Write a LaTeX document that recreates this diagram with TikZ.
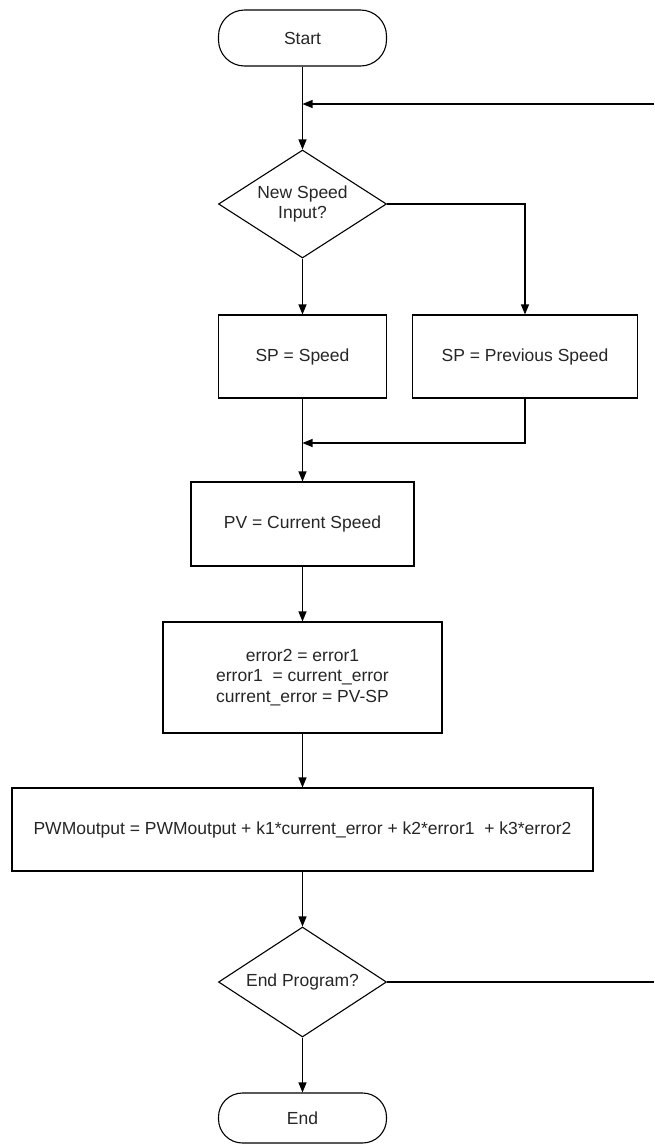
\documentclass[tikz,border=0pt]{standalone}
\usepackage{fontspec}
\setmainfont{Liberation Sans}
\usetikzlibrary{shapes.geometric,arrows.meta}
\begin{document}
\begin{tikzpicture}[x=1pt,y=-1pt,
  every node/.style={font=\fontsize{17.5}{20.5}\selectfont, text=black!85, align=center, inner sep=0pt},
  term/.style={draw, line width=1.1pt, rectangle, rounded corners=26pt, minimum width=168pt},
  proc/.style={draw, line width=1.1pt, rectangle},
  dec/.style={draw, line width=1.1pt, diamond, aspect=1.55, minimum width=168pt},
  arr/.style={line width=1.1pt, -{Triangle[length=10pt,width=8pt]}},
  ln/.style={line width=1.1pt}]
\useasboundingbox (0,0) rectangle (654,1144);
\node[term, minimum height=56pt] (start) at (302.5,38) {Start};
\node[dec, minimum height=108pt] (d1) at (302.5,204) {New Speed\\Input?};
\node[proc, minimum width=168pt, minimum height=83pt] (sp) at (302.5,356.5) {SP = Speed};
\node[proc, minimum width=225pt, minimum height=83pt] (prev) at (525,356.5) {SP = Previous Speed};
\node[proc, minimum width=223pt, minimum height=84pt] (pv) at (302.5,524) {PV = Current Speed};
\node[proc, minimum width=279pt, minimum height=111pt] (err) at (302.5,677.5) {error2 = error1\\error1 \ = current\_error\\current\_error = PV-SP};
\node[proc, minimum width=581pt, minimum height=83pt] (pwm) at (302.5,829.5) {PWMoutput = PWMoutput + k1*current\_error + k2*error1 \ + k3*error2};
\node[dec, minimum height=110pt] (d2) at (302.5,982) {End Program?};
\node[term, minimum height=50pt, rounded corners=24pt] (end) at (302.5,1118) {End};
\coordinate (loopin) at (302.5,104);
\coordinate (loopR) at (654,104);
\coordinate (endR) at (654,982);
\coordinate (merge) at (302.5,443);
\draw[arr] (start.south) -- (d1.north);
\draw[arr] (loopR) -- (loopin);
\draw[arr] (d1.south) -- (sp.north);
\draw[arr] (d1.east) -| (prev.north);
\draw[arr] (sp.south) -- (pv.north);
\draw[arr] (prev.south) |- (merge);
\draw[arr] (pv.south) -- (err.north);
\draw[arr] (err.south) -- (pwm.north);
\draw[arr] (pwm.south) -- (d2.north);
\draw[arr] (d2.south) -- (end.north);
\draw[ln] (d2.east) -- (endR);
\end{tikzpicture}
\end{document}
